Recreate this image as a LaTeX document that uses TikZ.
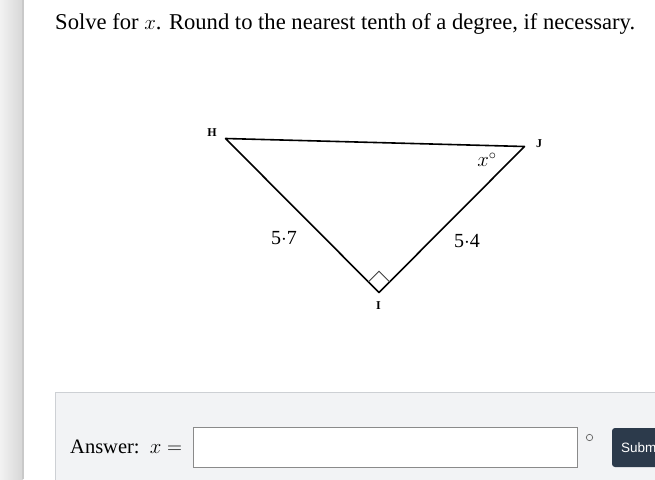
\documentclass[tikz,border=0pt]{standalone}
\usepackage{fontspec}
\setmainfont{Liberation Serif}
\newfontfamily\btnfont{Liberation Sans}
\usetikzlibrary{calc}
\definecolor{panelbg}{HTML}{F2F3F5}
\definecolor{panelline}{HTML}{CDD0D4}
\definecolor{btnbg}{HTML}{2C3A4B}
\definecolor{inputline}{HTML}{8A8A8A}
\tikzset{
  side/.style={line width=1.6pt, line cap=round, line join=round},
  vlabel/.style={font=\fontsize{12}{14}\selectfont\bfseries, inner sep=0pt},
  lenlabel/.style={font=\fontsize{20}{22}\selectfont, inner sep=0pt},
}
\begin{document}
\begin{tikzpicture}[x=1pt,y=-1pt]
\useasboundingbox (0,0) rectangle (655,479);
\fill[white] (0,0) rectangle (655,479);
% left shadow strip
\shade[left color=gray!10, right color=gray!32] (0,0) rectangle (23,479);
\fill[gray!42] (22,0) rectangle (23.5,479);
% title
\node[anchor=base west, inner sep=0pt, font=\fontsize{22.6}{26}\selectfont] (title) at (55,29)
  {Solve for $x$. Round to the nearest tenth of a degree, if necessary.};
% triangle
\coordinate (H) at (225.5,138.5);
\coordinate (J) at (524.5,146.5);
\coordinate (I) at (379,292.5);
\draw[side] (H) -- (J) -- (I) -- cycle;
% right angle mark
\draw[line width=0.9pt, black!75] ($(I)!15pt!(H)$) -- ($(I)!15pt!(H) + (I)!15pt!(J) - (I)$) -- ($(I)!15pt!(J)$);
\node[vlabel] (hl) at (212,133) {H};
\node[vlabel] (jl) at (539,144) {J};
\node[vlabel] (il) at (378.5,306) {I};
\node[lenlabel] (a) at (284,238) {5$\cdot$7};
\node[lenlabel] (b) at (467,241) {5$\cdot$4};
\node[inner sep=0pt, font=\fontsize{21}{23}\selectfont] (ang) at (487,160) {$x^\circ$};
% answer panel
\draw[fill=panelbg, draw=panelline, line width=0.8pt] (55.5,392) rectangle (660,485);
\node[anchor=base west, inner sep=0pt, font=\fontsize{20.5}{23}\selectfont] (ans) at (70,453) {Answer:\ \ $x=$};
\draw[fill=white, draw=inputline, line width=0.8pt] (193.5,427.5) rectangle (577.5,467);
\draw[gray!80!black, line width=0.7pt] (589.5,437.5) circle (3.2pt);
\fill[btnbg, rounded corners=3pt] (612,428) rectangle (665,467);
\begin{scope}
\clip (0,0) rectangle (655,479);
\node[anchor=west, inner sep=0pt, text=white, font=\btnfont\fontsize{13.5}{15}\selectfont] (sub) at (621,447.5) {Submit};
\end{scope}
\end{tikzpicture}
\end{document}
